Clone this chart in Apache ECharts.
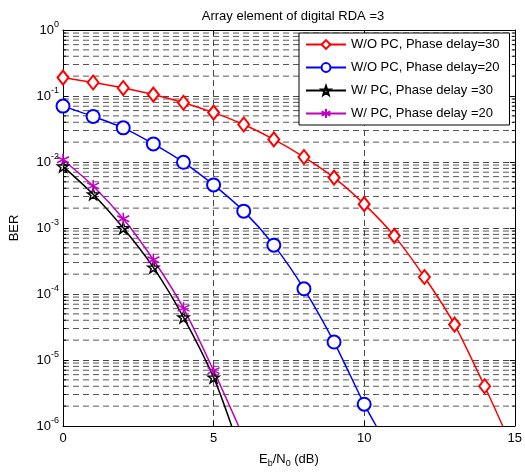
<!DOCTYPE html>
<html>
<head>
<meta charset="utf-8">
<script src="https://cdn.jsdelivr.net/npm/echarts@6/dist/echarts.min.js"></script>
<style>html,body{margin:0;padding:0;background:#fff;}#c{width:525px;height:473px;}</style>
</head>
<body>
<div id="c"></div>
<script>
// ---- data ----
var titleText = 'Array element of digital RDA =3';
var seriesNames = ['W/O PC, Phase delay=30', 'W/O PC, Phase delay=20', 'W/ PC, Phase delay =30', 'W/ PC, Phase delay =20'];
var xTicks = [0, 5, 10, 15];

var redX = [0, 1, 2, 3, 4, 5, 6, 7, 8, 9, 10, 11, 12, 13, 14];
var redY = [0.19, 0.16, 0.132, 0.105, 0.079, 0.056, 0.037, 0.022, 0.0119, 0.0058, 0.0023, 7.6e-4, 1.81e-4, 3.44e-5, 4.0e-6];
var redEnd = [14.6, 1e-6];

var blueX = [0, 1, 2, 3, 4, 5, 6, 7, 8, 9, 10];
var blueY = [0.0703, 0.049, 0.0329, 0.0188, 0.0099, 0.0045, 0.0018, 5.5e-4, 1.2e-4, 1.87e-5, 2.14e-6];
var blueEnd = [10.4, 1e-6];

var blackX = [0, 1, 2, 3, 4, 5];
var blackY = [0.0086, 0.00325, 1.0e-3, 2.53e-4, 4.43e-5, 5.45e-6];
var blackEnd = [5.6, 1e-6];

var magX = [0, 1, 2, 3, 4, 5];
var magY = [0.0108, 0.00434, 1.38e-3, 3.3e-4, 6.1e-5, 6.9e-6];
var magEnd = [5.83, 1e-6];

// ---- helpers ----
function pairs(xs, ys, end) {
  var out = xs.map(function (x, i) { return [x, ys[i]]; });
  out.push({ value: end, symbol: 'none' });
  return out;
}
var minorGrid = [];
for (var e = -6; e < 0; e++) {
  for (var m = 2; m <= 9; m++) minorGrid.push([0, m * Math.pow(10, e)]);
}
var gridDash = { color: '#333', width: 0.9, type: [6, 4] };
var FONT = 'Liberation Sans, Arial, sans-serif';

var starPath = 'path://M0,-10L2.35,-3.24L9.51,-3.09L3.8,1.24L5.88,8.09L0,4L-5.88,8.09L-3.8,1.24L-9.51,-3.09L-2.35,-3.24Z';
var asteriskPath = 'path://M0,-10L0,10M-8.66,-5L8.66,5M-8.66,5L8.66,-5';

var chart = echarts.init(document.getElementById('c'), null, { renderer: 'canvas' });
chart.setOption({
  animation: false,
  backgroundColor: '#fff',
  textStyle: { fontFamily: FONT },
  title: {
    text: titleText, left: 288, top: 5, textAlign: 'center',
    textStyle: { fontFamily: FONT, fontSize: 13, fontWeight: 'normal', color: '#000' }
  },
  grid: { left: 61, right: 10, top: 30, bottom: 41, containLabel: false },
  legend: {
    data: seriesNames, orient: 'vertical', left: 299, top: 33, z: 10,
    backgroundColor: '#fff', borderColor: '#000', borderWidth: 1, borderRadius: 0,
    padding: [5, 10, 5, 6], itemGap: 10, itemWidth: 40, itemHeight: 11,
    textStyle: { fontFamily: FONT, fontSize: 13, color: '#000' }
  },
  xAxis: [{
    type: 'value', min: 0, max: 15, interval: 5, position: 'bottom',
    name: 'E{sub|b}/N{sub|0} (dB)', nameLocation: 'middle', nameGap: 24,
    nameTextStyle: { fontFamily: FONT, fontSize: 13, color: '#000',
      rich: { sub: { fontFamily: FONT, fontSize: 9, color: '#000', verticalAlign: 'bottom', padding: [9, 0, 0, 0] } } },
    axisLine: { show: true, onZero: false, lineStyle: { color: '#000', width: 1 } },
    axisTick: { show: true, inside: true, length: 5, lineStyle: { color: '#000' } },
    axisLabel: { fontFamily: FONT, fontSize: 13, color: '#000', margin: 6 },
    splitLine: { show: true, lineStyle: gridDash }
  }, {
    type: 'value', min: 0, max: 15, interval: 5, position: 'top',
    axisLine: { show: true, onZero: false, lineStyle: { color: '#000', width: 1 } },
    axisTick: { show: true, inside: true, length: 5, lineStyle: { color: '#000' } },
    axisLabel: { show: false }, splitLine: { show: false }
  }],
  yAxis: [{
    type: 'log', logBase: 10, min: 1e-6, max: 1, splitNumber: 6, position: 'left',
    name: 'BER', nameLocation: 'middle', nameGap: 42, nameRotate: 90,
    nameTextStyle: { fontFamily: FONT, fontSize: 13, color: '#000' },
    axisLine: { show: true, onZero: false, lineStyle: { color: '#000', width: 1 } },
    axisTick: { show: true, inside: true, length: 5, lineStyle: { color: '#000' } },
    axisLabel: {
      fontFamily: FONT, fontSize: 13, color: '#000', margin: 4,
      formatter: function (v) { return '10{sup|' + Math.round(Math.log10(v)) + '}'; },
      rich: { sup: { fontFamily: FONT, fontSize: 9, color: '#000', verticalAlign: 'top', padding: [0, 0, 10, 0] } }
    },
    splitLine: { show: true, lineStyle: gridDash }
  }, {
    type: 'log', logBase: 10, min: 1e-6, max: 1, splitNumber: 6, position: 'right',
    axisLine: { show: true, onZero: false, lineStyle: { color: '#000', width: 1 } },
    axisTick: { show: true, inside: true, length: 5, lineStyle: { color: '#000' } },
    axisLabel: { show: false }, splitLine: { show: false }
  }],
  series: [{
    name: 'minor-grid', type: 'custom', data: minorGrid, z: 1, silent: true,
    encode: { x: 0, y: 1 },
    renderItem: function (params, api) {
      var y = api.value(1);
      var p0 = api.coord([0, y]);
      var p1 = api.coord([15, y]);
      return {
        type: 'group', children: [
          { type: 'line', shape: { x1: p0[0], y1: p0[1], x2: p1[0], y2: p1[1] },
            style: { stroke: '#444', lineWidth: 0.9, lineDash: [6, 4] } },
          { type: 'line', shape: { x1: p0[0], y1: p0[1], x2: p0[0] + 3, y2: p0[1] },
            style: { stroke: '#000', lineWidth: 1 } },
          { type: 'line', shape: { x1: p1[0] - 3, y1: p1[1], x2: p1[0], y2: p1[1] },
            style: { stroke: '#000', lineWidth: 1 } }
        ]
      };
    }
  }, {
    name: seriesNames[0], type: 'line', data: pairs(redX, redY, redEnd), z: 3,
    symbol: 'emptyDiamond', symbolSize: [11, 14], smooth: 0.25,
    lineStyle: { color: '#ff0000', width: 1.5 },
    itemStyle: { color: '#ff0000', borderColor: '#ff0000', borderWidth: 1.5 }
  }, {
    name: seriesNames[1], type: 'line', data: pairs(blueX, blueY, blueEnd), z: 3,
    symbol: 'emptyCircle', symbolSize: 13, smooth: 0.25,
    lineStyle: { color: '#0000ff', width: 1.5 },
    itemStyle: { color: '#0000ff', borderColor: '#0000ff', borderWidth: 1.5 }
  }, {
    name: seriesNames[2], type: 'line', data: pairs(blackX, blackY, blackEnd), z: 3,
    symbol: starPath, symbolSize: 11, smooth: 0.25,
    lineStyle: { color: '#000000', width: 1.5 },
    itemStyle: { color: 'rgba(255,255,255,0)', borderColor: '#000000', borderWidth: 1.5 }
  }, {
    name: seriesNames[3], type: 'line', data: pairs(magX, magY, magEnd), z: 3,
    symbol: asteriskPath, symbolSize: 12, smooth: 0.25,
    lineStyle: { color: '#c000c0', width: 1.5 },
    itemStyle: { color: '#c000c0', borderColor: '#c000c0', borderWidth: 1.5 }
  }]
});
</script>
</body>
</html>
